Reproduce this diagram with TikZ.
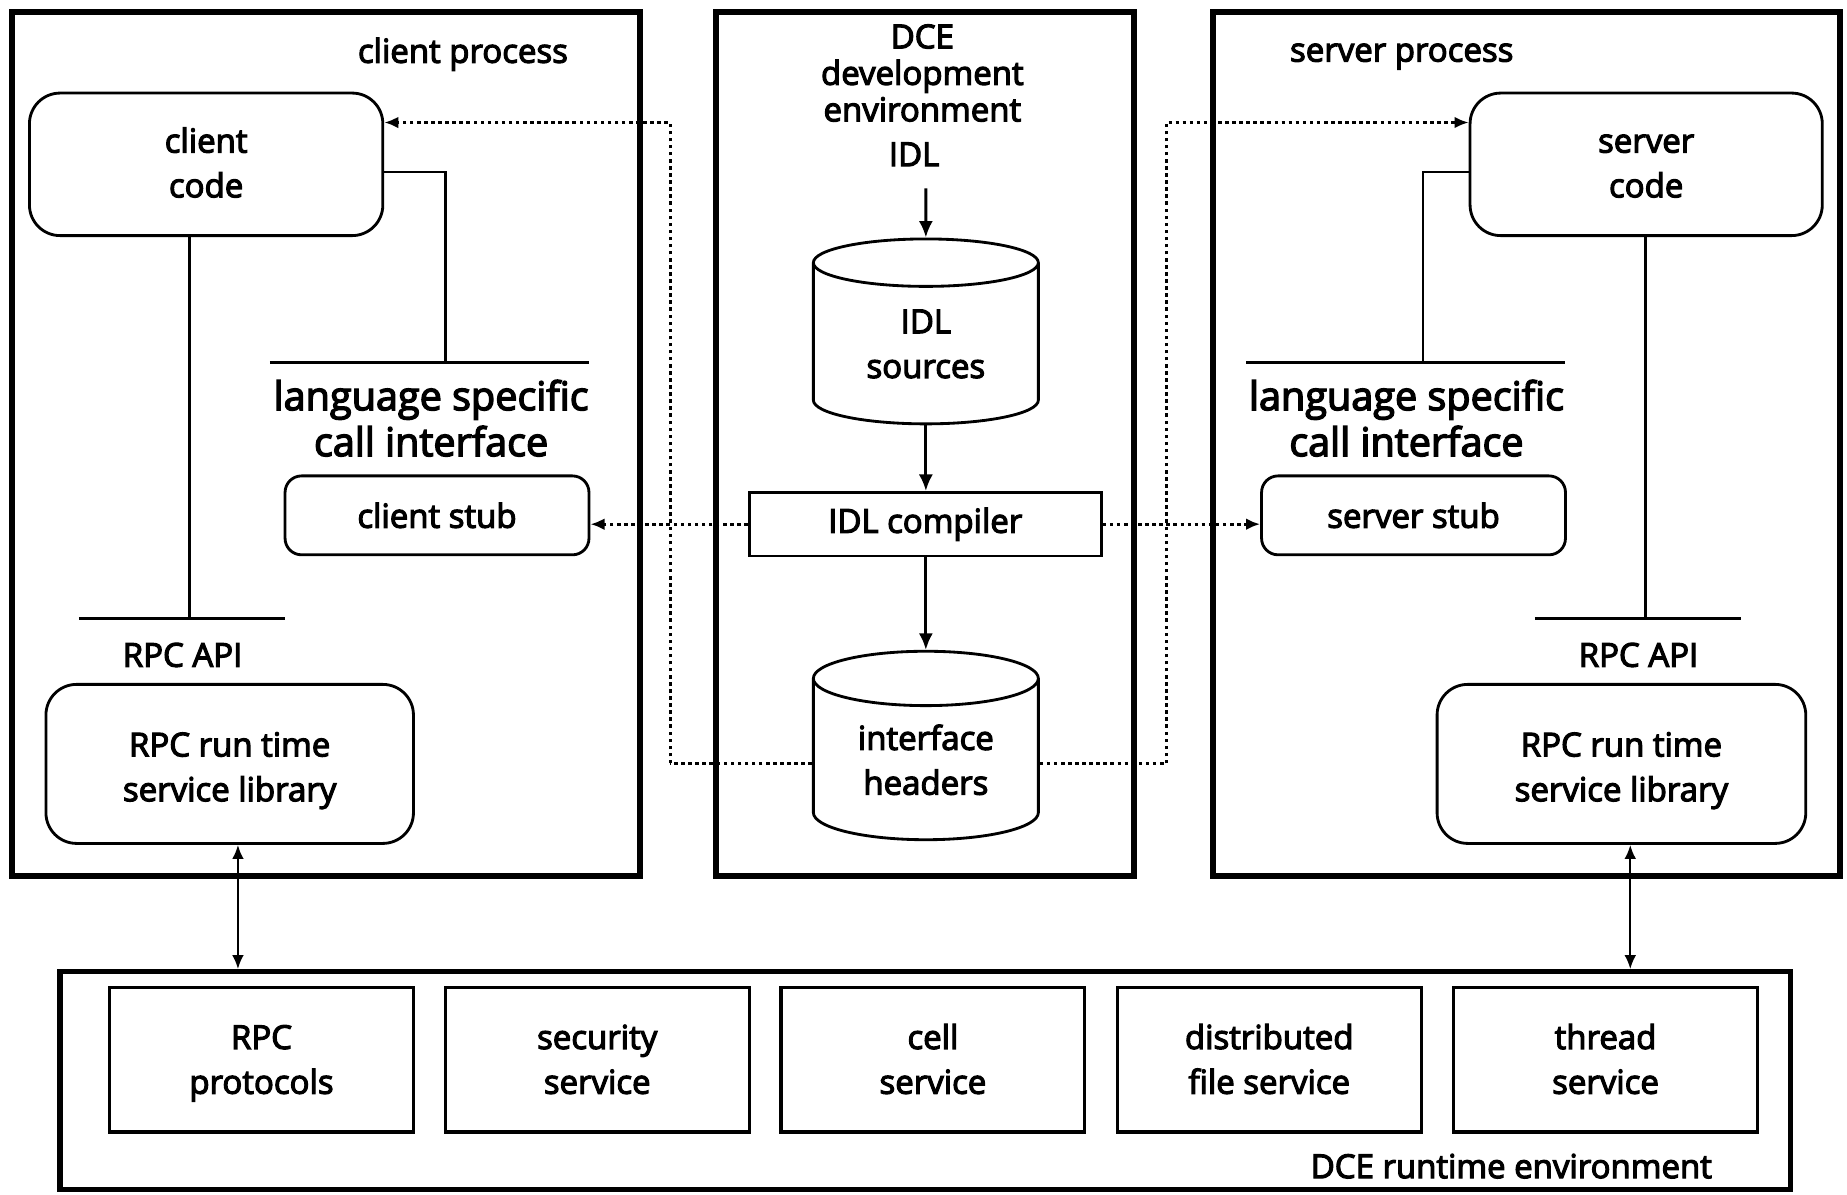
\documentclass[tikz,border=0pt]{standalone}
\usepackage{fontspec}
\setmainfont[FakeBold=3.5]{Open Sans}
\usetikzlibrary{%
    arrows.meta,
    calc,
    fit,
    positioning,
    shapes.geometric
}
\newcommand{\hitop}{\rule{0pt}{16pt}}
\newcommand{\codebot}{\rule[-7pt]{0pt}{7pt}}
\newcommand{\srvtop}{\rule{0pt}{14pt}}
\newcommand{\srvbot}{\rule[-4pt]{0pt}{4pt}}
\tikzset{
    procbox/.style = {draw, line width=2.5pt, inner sep=0pt},
    codebox/.style = {draw, line width=1.2pt, rounded corners=13pt, align=center, inner sep=0pt},
    stubbox/.style = {draw, line width=1.2pt, rounded corners=7pt, align=center, inner sep=0pt},
    srvbox/.style = {draw, line width=1.3pt, align=center, inner sep=0pt,
                     minimum width=129pt, minimum height=61.5pt},
    dbcyl/.style = {draw, cylinder, shape border rotate=90, aspect=0.4, line width=1.2pt,
                    align=center, inner sep=0pt, minimum width=95.5pt, minimum height=78.5pt},
    txt/.style = {align=center, inner sep=0pt},
    bigtxt/.style = {align=center, inner sep=0pt, font=\fontsize{16.8}{19.5}\selectfont},
    headarrow/.style = {-{Latex[length=7pt,width=6pt]}, line width=1.2pt},
    twoarrow/.style = {{Latex[length=6pt,width=5pt]}-{Latex[length=6pt,width=5pt]}, line width=1pt},
    dotarrow/.style = {-{Latex[length=6pt,width=5pt]}, line width=1.4pt, dash pattern=on 1.5pt off 1.5pt},
    dotline/.style = {line width=1.4pt, dash pattern=on 1.5pt off 1.5pt},
    ifline/.style = {line width=1.2pt}
}

\begin{document}
\begin{tikzpicture}[x=0.5pt, y=-0.5pt, font=\fontsize{14}{19}\selectfont]
    \useasboundingbox (0,0) rectangle (1568,1014);

    % the three process boxes
    \node[procbox, fit={(10,10) (543,744)}] (cproc) {};
    \node[procbox, fit={(608,10) (963,744)}] (dproc) {};
    \node[procbox, fit={(1030,10) (1562,744)}] (sproc) {};
    \node[txt] (cproc-t) at (393,46) {client process};
    \node[txt] (sproc-t) at (1190,48) {server process};
    \node[txt, font=\fontsize{14}{15.5}\selectfont] (dproc-t) at (783,62) {DCE\\development\\environment};

    % client side
    \node[codebox, minimum width=150pt, minimum height=60.5pt] (ccode) at (175,139.5) {\hitop client\\code\codebot};
    \node[stubbox, minimum width=129pt, minimum height=33.5pt] (cstub) at (371,437.5) {client stub};
    \node[codebox, minimum width=156pt, minimum height=67.5pt] (crt) at (195,648.5) {\hitop RPC run time\\service library};
    \node[bigtxt] (clsi) at (366,355) {language specific\\call interface};
    \node[txt] (capi-t) at (155,556) {RPC API};
    \coordinate (clsi-l) at (229,308);
    \coordinate (clsi-r) at (500,308);
    \coordinate (clsi-j) at (378,308);
    \coordinate (capi-l) at (67,525);
    \coordinate (capi-r) at (242,525);
    \coordinate (capi-j) at (161,525);
    \draw[ifline] (clsi-l) -- (clsi-r);
    \draw[ifline] (capi-l) -- (capi-r);
    \draw[ifline] ([yshift=-3.25pt]ccode.east) -| (clsi-j);
    \draw[ifline] (capi-j |- ccode.south) -- (capi-j);

    % development environment
    \node[txt] (idl-t) at (776,131) {IDL};
    \node[dbcyl] (src) at (786,292) {IDL\\sources};
    \node[draw, line width=1.2pt, minimum width=149.5pt, minimum height=27pt, inner sep=0pt] (comp) at (785.5,445) {IDL compiler};
    \node[dbcyl, minimum height=80pt] (hdr) at (786,645) {interface\\headers};
    \draw[headarrow] (786,160) -- (src.north);
    \draw[headarrow] (src.south) -- (comp.north -| src.south);
    \draw[headarrow] (comp.south -| hdr.north) -- (hdr.north);

    % server side
    \node[codebox, minimum width=149.5pt, minimum height=60.5pt] (scode) at (1397.5,139.5) {\hitop server\\code\codebot};
    \node[stubbox, minimum width=129pt, minimum height=33.5pt] (sstub) at (1200,437.5) {server stub};
    \node[codebox, minimum width=156.5pt, minimum height=67.5pt] (srt) at (1376.5,648.5) {\hitop RPC run time\\service library};
    \node[bigtxt] (slsi) at (1194,355) {language specific\\call interface};
    \node[txt] (sapi-t) at (1391,556) {RPC API};
    \coordinate (slsi-l) at (1058,308);
    \coordinate (slsi-r) at (1329,308);
    \coordinate (slsi-j) at (1208,308);
    \coordinate (sapi-l) at (1303,525);
    \coordinate (sapi-r) at (1478,525);
    \coordinate (sapi-j) at (1397,525);
    \draw[ifline] (slsi-l) -- (slsi-r);
    \draw[ifline] (sapi-l) -- (sapi-r);
    \draw[ifline] ([yshift=-3.25pt]scode.west) -| (slsi-j);
    \draw[ifline] (sapi-j |- scode.south) -- (sapi-j);

    % generated code goes to both sides
    \coordinate (cjog) at (569,648);
    \coordinate (sjog) at (990,648);
    \draw[dotarrow] (comp.west) -- (comp.west -| cstub.east);
    \draw[dotarrow] (comp.east) -- (comp.east -| sstub.west);
    \draw[dotline] (hdr.west |- cjog) -- (cjog);
    \draw[dotarrow] (cjog) |- ([yshift=17.75pt]ccode.east);
    \draw[dotline] (hdr.east |- sjog) -- (sjog);
    \draw[dotarrow] (sjog) |- ([yshift=17.75pt]scode.west);

    % runtime environment
    \node[procbox, line width=2.2pt, fit={(51,825) (1520,1010)}] (rte) {};
    \node[txt] (rte-t) at (1283,990) {DCE runtime environment};
    \node[srvbox] (s-1) at (222,899.5) {\srvtop RPC\\protocols\srvbot};
    \node[srvbox] (s-2) at (507,899.5) {\srvtop security\\service\srvbot};
    \node[srvbox] (s-3) at (792,899.5) {\srvtop cell\\service\srvbot};
    \node[srvbox] (s-4) at (1077.5,899.5) {\srvtop distributed\\file service\srvbot};
    \node[srvbox] (s-5) at (1363,899.5) {\srvtop thread\\service\srvbot};

    \coordinate (clink) at (202,0);
    \coordinate (slink) at (1384,0);
    \draw[twoarrow] (clink |- crt.south) -- (clink |- rte.north);
    \draw[twoarrow] (slink |- srt.south) -- (slink |- rte.north);
\end{tikzpicture}
\end{document}
